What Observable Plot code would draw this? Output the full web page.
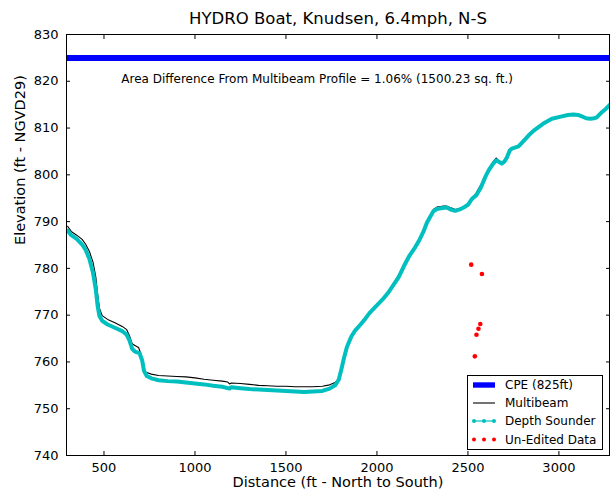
<!DOCTYPE html>
<html>
<head>
<meta charset="utf-8">
<script src="https://cdn.jsdelivr.net/npm/d3@7"></script>
<script src="https://cdn.jsdelivr.net/npm/@observablehq/plot@0.6"></script>
<style>
  body { margin: 0; background: white; }
  #chart svg { display: block; }
</style>
</head>
<body>
<div id="chart"></div>
<script>
const titleText = "HYDRO Boat, Knudsen, 6.4mph, N-S";
const xLabel = "Distance (ft - North to South)";
const yLabel = "Elevation (ft - NGVD29)";
const annotationText = "Area Difference From Multibeam Profile = 1.06% (1500.23 sq. ft.)";
const legendLabels = ["CPE (825ft)", "Multibeam", "Depth Sounder", "Un-Edited Data"];

const xTicks = [500, 1000, 1500, 2000, 2500, 3000];
const yTicks = [740, 750, 760, 770, 780, 790, 800, 810, 820, 830];

const cpeElevation = 825;

const sounderDist = [300, 320, 350, 380, 400, 420, 440, 455, 465, 475, 490, 520, 560, 600, 625, 640, 655, 670, 695, 710, 720, 735, 760, 800, 850, 900, 950, 1000, 1050, 1100, 1150, 1190, 1200, 1250, 1300, 1350, 1400, 1450, 1500, 1550, 1600, 1650, 1700, 1740, 1770, 1790, 1805, 1820, 1835, 1860, 1880, 1910, 1935, 1960, 1990, 2030, 2064, 2090, 2119, 2140, 2155, 2180, 2210, 2235, 2256, 2275, 2292, 2310, 2329, 2360, 2384, 2410, 2430, 2455, 2476, 2500, 2523, 2545, 2570, 2595, 2613, 2635, 2655, 2670, 2686, 2700, 2714, 2730, 2741, 2778, 2800, 2833, 2860, 2888, 2920, 2961, 3016, 3050, 3080, 3105, 3126, 3150, 3172, 3195, 3208, 3236, 3260, 3278];
const sounderElev = [788.1, 787.1, 786.3, 785.1, 783.9, 782.0, 779.0, 775.5, 772.0, 769.8, 768.8, 768.0, 767.3, 766.6, 765.8, 764.6, 762.8, 762.2, 761.9, 760.3, 758.1, 757.0, 756.5, 756.1, 755.9, 755.8, 755.6, 755.4, 755.2, 754.9, 754.7, 754.3, 754.6, 754.4, 754.2, 754.1, 754.0, 753.9, 753.8, 753.7, 753.6, 753.7, 753.8, 754.3, 755.0, 756.2, 758.5, 761, 763.2, 765.5, 766.7, 768, 769.2, 770.5, 771.7, 773.3, 774.9, 776.4, 778.1, 779.8, 781.0, 782.8, 784.5, 786.2, 787.9, 789.8, 791, 792.2, 792.7, 792.9, 793.0, 792.5, 792.3, 792.6, 793.0, 793.6, 794.9, 795.6, 797.2, 799.5, 800.9, 802.2, 803.1, 802.8, 802.4, 802.8, 803.7, 805.2, 805.6, 806.1, 807, 808.4, 809.4, 810.2, 811.1, 812.0, 812.5, 812.8, 812.9, 812.8, 812.5, 812.1, 812.0, 812.1, 812.3, 813.4, 814.2, 814.9];

const multibeamDist = [300, 320, 350, 380, 400, 420, 440, 455, 465, 475, 490, 520, 560, 600, 625, 640, 655, 670, 690, 705, 715, 730, 760, 800, 850, 900, 950, 1000, 1050, 1100, 1150, 1180, 1190, 1200, 1250, 1300, 1350, 1400, 1450, 1500, 1550, 1600, 1650, 1700, 1740, 1770, 1790, 1805, 1820, 1835, 1860, 1880, 1910, 1935, 1960, 1990, 2030, 2064, 2090, 2119, 2140, 2155, 2180, 2210, 2235, 2256, 2275, 2292, 2310, 2329, 2360, 2384, 2410, 2430, 2455, 2476, 2500, 2523, 2545, 2570, 2595, 2613, 2635, 2655, 2670, 2686, 2700, 2714, 2730, 2741, 2778, 2800, 2833, 2860, 2888, 2920, 2961, 3016, 3050, 3080, 3105, 3126, 3150, 3172, 3195, 3208, 3236, 3260, 3278];
const multibeamElev = [789.0, 787.9, 787.1, 786.2, 785.1, 783.6, 781.3, 778.2, 774.5, 771.5, 769.9, 769.1, 768.4, 767.6, 766.9, 765.6, 763.9, 763.5, 763.1, 761.5, 758.8, 757.8, 757.4, 757.1, 757.0, 756.9, 756.8, 756.6, 756.3, 756.1, 755.9, 755.7, 755.3, 755.5, 755.4, 755.2, 755.0, 754.9, 754.8, 754.8, 754.7, 754.7, 754.7, 754.8, 755.1, 755.6, 756.5, 758.5, 761.5, 763.5, 765.6, 766.9, 768.2, 769.4, 770.6, 771.9, 773.5, 775.2, 776.8, 778.6, 780.2, 781.3, 783.0, 784.8, 786.5, 788.2, 790.0, 791.3, 792.6, 793.1, 793.3, 793.3, 792.9, 792.6, 792.8, 793.2, 793.8, 795.0, 796.1, 797.8, 799.8, 801.2, 802.6, 803.6, 803.0, 802.6, 803.0, 803.8, 805.3, 805.7, 806.2, 807.1, 808.5, 809.5, 810.3, 811.2, 812.1, 812.6, 812.9, 813.0, 812.9, 812.6, 812.2, 812.1, 812.2, 812.4, 813.5, 814.3, 814.9];

const uneditedDist = [2518, 2577, 2568, 2558, 2547, 2538];
const uneditedElev = [780.8, 778.8, 768.1, 767.1, 765.8, 761.2];

const sounder = sounderDist.map((d, i) => ({dist: d, elev: sounderElev[i]}));
const multibeam = multibeamDist.map((d, i) => ({dist: d, elev: multibeamElev[i]}));
const unedited = uneditedDist.map((d, i) => ({dist: d, elev: uneditedElev[i]}));

const colors = {cpe: "#0000ff", multibeam: "#000000", sounder: "#00bfbf", unedited: "#ff0000"};
const fmt = d3.format("d");

const chart = Plot.plot({
  width: 610,
  height: 491,
  marginLeft: 66,
  marginRight: 1,
  marginTop: 34,
  marginBottom: 36,
  style: {fontFamily: "DejaVu Sans", fontSize: "13px", color: "black", background: "white"},
  x: {domain: [294, 3278]},
  y: {domain: [740, 830]},
  marks: [
    Plot.ruleY([cpeElevation], {stroke: colors.cpe, strokeWidth: 6}),
    Plot.line(multibeam, {x: "dist", y: "elev", stroke: colors.multibeam, strokeWidth: 1.1, clip: true}),
    Plot.line(sounder, {x: "dist", y: "elev", stroke: colors.sounder, strokeWidth: 4, clip: true}),
    Plot.dot(unedited, {x: "dist", y: "elev", fill: colors.unedited, r: 2.3}),
    Plot.text([annotationText], {x: 1671, y: 820.4, text: d => d, fontSize: 12, textAnchor: "middle", fill: "black"}),
    Plot.axisX({anchor: "bottom", ticks: xTicks, tickSize: -4, tickPadding: 11, tickFormat: fmt, label: null, fontSize: 13}),
    Plot.axisX({anchor: "top", ticks: xTicks, tickSize: -4, tickFormat: () => "", label: null}),
    Plot.axisY({anchor: "left", ticks: yTicks, tickSize: -4, tickPadding: 12, tickFormat: fmt, label: null, fontSize: 13}),
    Plot.axisY({anchor: "right", ticks: yTicks, tickSize: -4, tickFormat: () => "", label: null}),
    Plot.frame({stroke: "black", strokeWidth: 1}),
    Plot.text([titleText], {frameAnchor: "top", dy: -16, text: d => d, fontSize: 16.5, lineAnchor: "middle"}),
    Plot.text([xLabel], {frameAnchor: "bottom", dy: 27, text: d => d, fontSize: 14.5, lineAnchor: "middle"}),
    Plot.text([yLabel], {frameAnchor: "left", dx: -46, rotate: -90, text: d => d, fontSize: 14.5, lineAnchor: "middle"})
  ]
});

// Legend (lower right, inside the plot)
const svg = d3.select(chart);
const lg = svg.append("g").attr("font-family", "DejaVu Sans").attr("font-size", 12).attr("text-anchor", "start");
lg.append("rect").attr("x", 467.5).attr("y", 375.5).attr("width", 135).attr("height", 74)
  .attr("fill", "white").attr("stroke", "black").attr("stroke-width", 1);
const rows = [385, 403, 421, 439.5];
lg.append("rect").attr("x", 473).attr("y", rows[0] - 2.7).attr("width", 22).attr("height", 5.4).attr("fill", colors.cpe);
lg.append("line").attr("x1", 473).attr("x2", 495).attr("y1", rows[1]).attr("y2", rows[1]).attr("stroke", colors.multibeam).attr("stroke-width", 1.1);
lg.append("line").attr("x1", 473).attr("x2", 495).attr("y1", rows[2]).attr("y2", rows[2]).attr("stroke", colors.sounder).attr("stroke-width", 1.2);
[474, 484, 494].forEach(cx => {
  lg.append("circle").attr("cx", cx).attr("cy", rows[2]).attr("r", 2).attr("fill", colors.sounder);
  lg.append("circle").attr("cx", cx).attr("cy", rows[3]).attr("r", 2).attr("fill", colors.unedited);
});
legendLabels.forEach((t, i) => {
  lg.append("text").attr("x", 505).attr("y", rows[i]).attr("dy", "0.35em").attr("fill", "black").attr("text-anchor", "start").text(t);
});

document.getElementById("chart").appendChild(chart);
</script>
</body>
</html>
